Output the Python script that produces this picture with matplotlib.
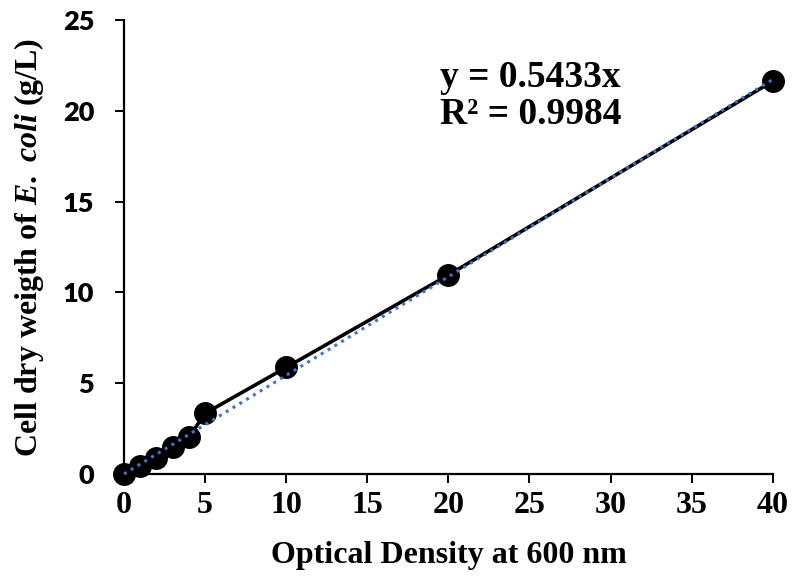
import matplotlib.pyplot as plt
import numpy as np

# Data
od600 = [0, 1, 2, 3, 4, 5, 10, 20, 40]
dry_weight = [0.0, 0.44, 0.86, 1.5, 2.02, 3.34, 5.87, 10.96, 21.64]
slope = 0.5433
r2 = 0.9984

x_ticks = [0, 5, 10, 15, 20, 25, 30, 35, 40]
y_ticks = [0, 5, 10, 15, 20, 25]

plt.rcParams['mathtext.fontset'] = 'custom'
plt.rcParams['mathtext.rm'] = 'Liberation Serif:bold'
plt.rcParams['mathtext.it'] = 'Liberation Serif:italic:bold'
plt.rcParams['mathtext.bf'] = 'Liberation Serif:bold'

fig = plt.figure(figsize=(7.95, 5.78), dpi=100)
ax = fig.add_axes([0.156, 0.180, 0.816, 0.785])

# Linear trendline through origin
fit_x = np.array([0, 40])
ax.plot(fit_x, slope * fit_x, color='#4472C4', linestyle=(0, (1, 1.6)),
        linewidth=2.2, zorder=3, clip_on=False)

# Measured points
ax.plot(od600, dry_weight, color='black', linewidth=2.6, marker='o',
        markersize=15.5, zorder=2, clip_on=False)

ax.set_xlim(0, 40)
ax.set_ylim(0, 25)
ax.set_xticks(x_ticks)
ax.set_yticks(y_ticks)

for s in ['top', 'right']:
    ax.spines[s].set_visible(False)
for s in ['left', 'bottom']:
    ax.spines[s].set_linewidth(1.6)

ax.tick_params(axis='both', direction='out', length=6.5, width=1.4)
ax.tick_params(axis='x', pad=6)
ax.tick_params(axis='y', pad=15)

for lbl in ax.get_xticklabels():
    lbl.set_fontfamily('Liberation Serif')
    lbl.set_fontweight('bold')
    lbl.set_fontsize(23)
for lbl in ax.get_yticklabels():
    lbl.set_fontfamily('Lato')
    lbl.set_fontweight('heavy')
    lbl.set_fontsize(19.5)

ax.set_xlabel('Optical Density at 600 nm', fontfamily='Liberation Serif',
              fontweight='bold', fontsize=23, labelpad=15)
ax.set_ylabel(r'Cell dry weigth of $E.\ coli$ (g/L)', fontfamily='Liberation Serif',
              fontweight='bold', fontsize=23, labelpad=12)

ax.text(0.487, 0.912, f'y = {slope}x\nR² = {r2}', transform=ax.transAxes,
        fontfamily='Liberation Serif', fontweight='bold', fontsize=27,
        va='top', ha='left', linespacing=1.05)

fig.savefig('out.png', dpi=100)
